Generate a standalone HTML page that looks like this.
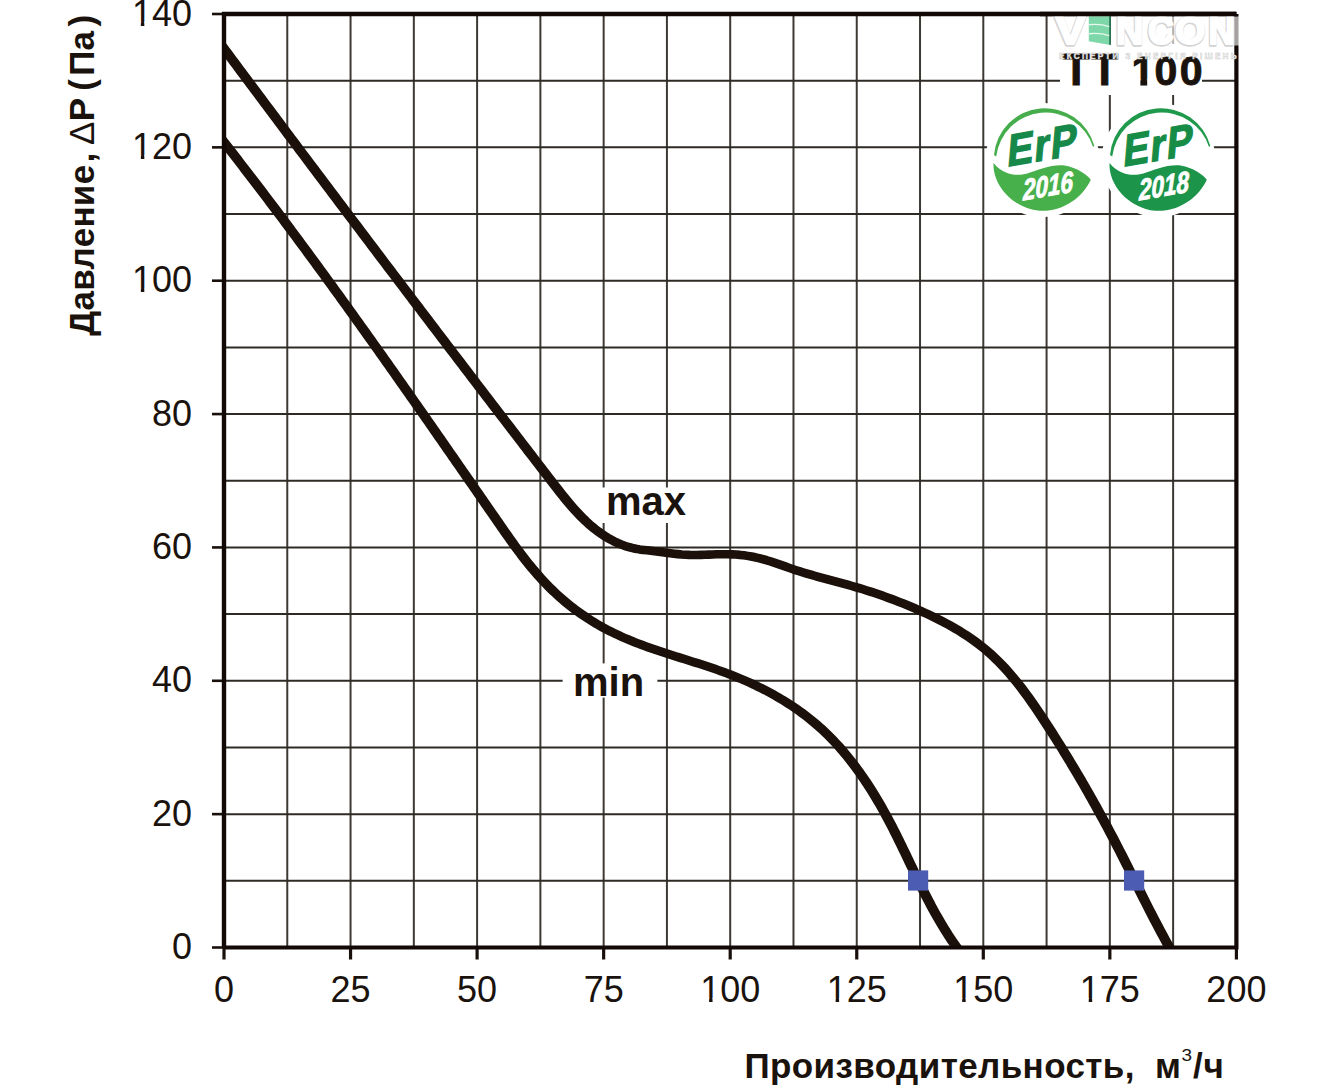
<!DOCTYPE html><html><head><meta charset="utf-8"><style>html,body{margin:0;padding:0;background:#fff;width:1329px;height:1087px;overflow:hidden}svg{display:block}text{font-family:"Liberation Sans",sans-serif}</style></head><body><svg width="1329" height="1087" viewBox="0 0 1329 1087"><defs><clipPath id="pc"><rect x="224.0" y="14.0" width="1012.4" height="933.5"/></clipPath></defs><rect width="1329" height="1087" fill="#fff"/><line x1="287.27" y1="14.0" x2="287.27" y2="947.5" stroke="#3d3934" stroke-width="2"/><line x1="350.55" y1="14.0" x2="350.55" y2="947.5" stroke="#3d3934" stroke-width="2"/><line x1="413.83" y1="14.0" x2="413.83" y2="947.5" stroke="#3d3934" stroke-width="2"/><line x1="477.10" y1="14.0" x2="477.10" y2="947.5" stroke="#3d3934" stroke-width="2"/><line x1="540.38" y1="14.0" x2="540.38" y2="947.5" stroke="#3d3934" stroke-width="2"/><line x1="603.65" y1="14.0" x2="603.65" y2="947.5" stroke="#3d3934" stroke-width="2"/><line x1="666.93" y1="14.0" x2="666.93" y2="947.5" stroke="#3d3934" stroke-width="2"/><line x1="730.20" y1="14.0" x2="730.20" y2="947.5" stroke="#3d3934" stroke-width="2"/><line x1="793.48" y1="14.0" x2="793.48" y2="947.5" stroke="#3d3934" stroke-width="2"/><line x1="856.75" y1="14.0" x2="856.75" y2="947.5" stroke="#3d3934" stroke-width="2"/><line x1="920.03" y1="14.0" x2="920.03" y2="947.5" stroke="#3d3934" stroke-width="2"/><line x1="983.30" y1="14.0" x2="983.30" y2="947.5" stroke="#3d3934" stroke-width="2"/><line x1="1046.58" y1="14.0" x2="1046.58" y2="947.5" stroke="#3d3934" stroke-width="2"/><line x1="1109.85" y1="14.0" x2="1109.85" y2="947.5" stroke="#3d3934" stroke-width="2"/><line x1="1173.12" y1="14.0" x2="1173.12" y2="947.5" stroke="#3d3934" stroke-width="2"/><line x1="224.0" y1="880.82" x2="1236.4" y2="880.82" stroke="#2e2a25" stroke-width="2"/><line x1="224.0" y1="814.14" x2="1236.4" y2="814.14" stroke="#2e2a25" stroke-width="2"/><line x1="224.0" y1="747.46" x2="1236.4" y2="747.46" stroke="#2e2a25" stroke-width="2"/><line x1="224.0" y1="680.79" x2="1236.4" y2="680.79" stroke="#2e2a25" stroke-width="2"/><line x1="224.0" y1="614.11" x2="1236.4" y2="614.11" stroke="#2e2a25" stroke-width="2"/><line x1="224.0" y1="547.43" x2="1236.4" y2="547.43" stroke="#2e2a25" stroke-width="2"/><line x1="224.0" y1="480.75" x2="1236.4" y2="480.75" stroke="#2e2a25" stroke-width="2"/><line x1="224.0" y1="414.07" x2="1236.4" y2="414.07" stroke="#2e2a25" stroke-width="2"/><line x1="224.0" y1="347.39" x2="1236.4" y2="347.39" stroke="#2e2a25" stroke-width="2"/><line x1="224.0" y1="280.71" x2="1236.4" y2="280.71" stroke="#2e2a25" stroke-width="2"/><line x1="224.0" y1="214.04" x2="1236.4" y2="214.04" stroke="#2e2a25" stroke-width="2"/><line x1="224.0" y1="147.36" x2="1236.4" y2="147.36" stroke="#2e2a25" stroke-width="2"/><line x1="224.0" y1="80.68" x2="1236.4" y2="80.68" stroke="#2e2a25" stroke-width="2"/><line x1="212" y1="947.50" x2="224.0" y2="947.50" stroke="#1a100b" stroke-width="2.6"/><line x1="212" y1="814.14" x2="224.0" y2="814.14" stroke="#1a100b" stroke-width="2.6"/><line x1="212" y1="680.79" x2="224.0" y2="680.79" stroke="#1a100b" stroke-width="2.6"/><line x1="212" y1="547.43" x2="224.0" y2="547.43" stroke="#1a100b" stroke-width="2.6"/><line x1="212" y1="414.07" x2="224.0" y2="414.07" stroke="#1a100b" stroke-width="2.6"/><line x1="212" y1="280.71" x2="224.0" y2="280.71" stroke="#1a100b" stroke-width="2.6"/><line x1="212" y1="147.36" x2="224.0" y2="147.36" stroke="#1a100b" stroke-width="2.6"/><line x1="212" y1="14.00" x2="224.0" y2="14.00" stroke="#1a100b" stroke-width="2.6"/><line x1="224.00" y1="947.5" x2="224.00" y2="959.5" stroke="#1a100b" stroke-width="3.2"/><line x1="350.55" y1="947.5" x2="350.55" y2="959.5" stroke="#1a100b" stroke-width="3.2"/><line x1="477.10" y1="947.5" x2="477.10" y2="959.5" stroke="#1a100b" stroke-width="3.2"/><line x1="603.65" y1="947.5" x2="603.65" y2="959.5" stroke="#1a100b" stroke-width="3.2"/><line x1="730.20" y1="947.5" x2="730.20" y2="959.5" stroke="#1a100b" stroke-width="3.2"/><line x1="856.75" y1="947.5" x2="856.75" y2="959.5" stroke="#1a100b" stroke-width="3.2"/><line x1="983.30" y1="947.5" x2="983.30" y2="959.5" stroke="#1a100b" stroke-width="3.2"/><line x1="1109.85" y1="947.5" x2="1109.85" y2="959.5" stroke="#1a100b" stroke-width="3.2"/><line x1="1236.40" y1="947.5" x2="1236.40" y2="959.5" stroke="#1a100b" stroke-width="3.2"/><rect x="596" y="487.5" width="104" height="35.5" fill="#fff"/><rect x="562.6" y="663.4" width="94.8" height="34.2" fill="#fff"/><rect x="1060" y="44" width="142" height="51" fill="#fff"/><g clip-path="url(#pc)"><g transform="scale(1.1800,1)" fill="none" stroke="#1c100a" stroke-width="8.6" stroke-linejoin="round"><path d="M184.73 40.50 L186.73 43.67 L188.73 46.84 L190.73 50.00 L192.72 53.16 L194.72 56.32 L196.71 59.48 L198.71 62.63 L200.70 65.78 L202.69 68.93 L204.68 72.08 L206.67 75.22 L208.65 78.37 L210.64 81.51 L212.63 84.64 L214.61 87.78 L216.60 90.91 L218.58 94.04 L220.56 97.17 L222.54 100.30 L224.52 103.43 L226.50 106.55 L228.48 109.67 L230.46 112.79 L232.44 115.91 L234.41 119.03 L236.39 122.14 L238.36 125.25 L240.34 128.36 L242.31 131.47 L244.28 134.58 L246.26 137.69 L248.23 140.79 L250.20 143.89 L252.17 146.99 L254.14 150.09 L256.11 153.19 L258.08 156.29 L260.05 159.38 L262.02 162.48 L263.99 165.57 L265.95 168.66 L267.92 171.75 L269.89 174.84 L271.86 177.93 L273.82 181.01 L275.79 184.10 L277.75 187.18 L279.72 190.27 L281.69 193.35 L283.65 196.43 L285.62 199.51 L287.58 202.59 L289.55 205.67 L291.51 208.74 L293.48 211.82 L295.44 214.89 L297.40 217.97 L299.37 221.04 L301.33 224.12 L303.30 227.19 L305.26 230.26 L307.23 233.33 L309.19 236.40 L311.16 239.47 L313.12 242.54 L315.09 245.61 L317.05 248.68 L319.02 251.75 L320.98 254.82 L322.95 257.88 L324.92 260.95 L326.88 264.02 L328.85 267.08 L330.82 270.15 L332.78 273.22 L334.75 276.28 L336.72 279.35 L338.69 282.41 L340.66 285.48 L342.63 288.54 L344.60 291.61 L346.57 294.67 L348.54 297.74 L350.51 300.81 L352.48 303.87 L354.45 306.94 L356.43 310.00 L358.40 313.07 L360.37 316.14 L362.35 319.20 L364.32 322.27 L366.30 325.34 L368.28 328.40 L370.26 331.47 L372.23 334.54 L374.21 337.61 L376.19 340.68 L378.18 343.75 L380.16 346.82 L382.14 349.89 L384.12 352.96 L386.11 356.04 L388.09 359.11 L390.08 362.18 L392.07 365.26 L394.06 368.33 L396.05 371.41 L398.04 374.49 L400.03 377.57 L402.02 380.64 L404.01 383.72 L406.01 386.81 L408.01 389.89 L410.00 392.97 L412.00 396.06 L414.00 399.14 L416.00 402.23 L418.00 405.31 L420.01 408.40 L422.01 411.49 L424.02 414.58 L426.03 417.68 L428.03 420.77 L430.05 423.87 L432.06 426.96 L434.07 430.06 L436.08 433.16 L438.10 436.26 L440.12 439.36 L442.14 442.47 L444.16 445.57 L446.18 448.68 L448.20 451.79 L450.23 454.90 L452.25 458.01 L454.28 461.13 L456.31 464.25 L458.34 467.36 L460.38 470.48 L462.41 473.60 L464.45 476.73 L466.49 479.85 L468.53 482.98 L470.58 486.10 L472.63 489.22 L474.69 492.32 L476.77 495.40 L478.87 498.46 L480.98 501.48 L483.12 504.47 L485.28 507.42 L487.48 510.32 L489.71 513.17 L491.97 515.95 L494.27 518.68 L496.61 521.33 L499.00 523.91 L501.44 526.40 L503.93 528.82 L506.47 531.13 L509.07 533.35 L511.73 535.47 L514.46 537.48 L517.25 539.38 L520.11 541.15 L523.05 542.80 L526.06 544.32 L529.14 545.69 L532.28 546.90 L535.46 547.92 L538.68 548.74 L541.92 549.38 L545.18 549.89 L548.45 550.35 L551.72 550.80 L554.98 551.28 L558.23 551.78 L561.48 552.29 L564.73 552.79 L567.97 553.28 L571.22 553.72 L574.47 554.12 L577.72 554.46 L580.98 554.71 L584.24 554.88 L587.51 554.95 L590.79 554.93 L594.07 554.86 L597.35 554.74 L600.64 554.60 L603.93 554.45 L607.22 554.32 L610.51 554.22 L613.80 554.18 L617.09 554.21 L620.37 554.34 L623.65 554.57 L626.92 554.90 L630.19 555.34 L633.44 555.88 L636.67 556.53 L639.89 557.28 L643.09 558.14 L646.26 559.11 L649.42 560.17 L652.56 561.31 L655.68 562.51 L658.80 563.76 L661.91 565.04 L665.02 566.33 L668.13 567.62 L671.25 568.89 L674.38 570.13 L677.52 571.32 L680.67 572.47 L683.83 573.60 L687.00 574.69 L690.17 575.76 L693.35 576.81 L696.53 577.84 L699.71 578.86 L702.90 579.87 L706.08 580.88 L709.26 581.89 L712.44 582.90 L715.61 583.92 L718.78 584.95 L721.94 586.00 L725.09 587.08 L728.24 588.17 L731.37 589.30 L734.49 590.45 L737.61 591.62 L740.71 592.83 L743.81 594.06 L746.90 595.32 L749.98 596.61 L753.05 597.93 L756.12 599.27 L759.17 600.65 L762.23 602.05 L765.27 603.48 L768.31 604.94 L771.35 606.44 L774.38 607.96 L777.40 609.51 L780.43 611.09 L783.44 612.70 L786.45 614.35 L789.45 616.03 L792.44 617.74 L795.42 619.49 L798.38 621.28 L801.32 623.11 L804.24 624.98 L807.14 626.90 L810.01 628.85 L812.85 630.86 L815.67 632.91 L818.45 635.01 L821.20 637.17 L823.91 639.37 L826.58 641.63 L829.21 643.94 L831.80 646.31 L834.34 648.74 L836.83 651.23 L839.28 653.78 L841.68 656.38 L844.04 659.03 L846.36 661.73 L848.64 664.48 L850.88 667.28 L853.08 670.12 L855.24 673.01 L857.38 675.93 L859.48 678.89 L861.55 681.89 L863.59 684.92 L865.60 687.98 L867.59 691.07 L869.55 694.18 L871.48 697.33 L873.40 700.49 L875.30 703.68 L877.17 706.88 L879.03 710.10 L880.88 713.33 L882.71 716.58 L884.52 719.83 L886.33 723.10 L888.12 726.37 L889.91 729.64 L891.69 732.91 L893.46 736.20 L895.22 739.48 L896.97 742.77 L898.72 746.07 L900.45 749.37 L902.18 752.67 L903.90 755.98 L905.61 759.29 L907.31 762.61 L909.00 765.93 L910.68 769.26 L912.36 772.59 L914.03 775.93 L915.69 779.27 L917.34 782.62 L918.99 785.97 L920.62 789.32 L922.25 792.69 L923.87 796.05 L925.48 799.42 L927.09 802.80 L928.69 806.18 L930.28 809.57 L931.86 812.96 L933.43 816.35 L935.00 819.76 L936.56 823.16 L938.11 826.58 L939.65 829.99 L941.19 833.42 L942.72 836.85 L944.24 840.28 L945.76 843.72 L947.27 847.16 L948.77 850.61 L950.26 854.07 L951.75 857.53 L953.24 860.99 L954.72 864.46 L956.19 867.93 L957.67 871.40 L959.14 874.88 L960.61 878.35 L962.08 881.83 L963.55 885.30 L965.02 888.78 L966.50 892.25 L967.97 895.72 L969.45 899.19 L970.93 902.66 L972.42 906.12 L973.91 909.58 L975.41 913.03 L976.92 916.48 L978.43 919.93 L979.96 923.36 L981.49 926.80 L983.03 930.22 L984.58 933.63 L986.15 937.04 L987.72 940.44 L989.31 943.83 L990.91 947.21 L992.53 950.57 L994.16 953.93"/><path d="M184.64 134.45 L186.30 136.94 L187.97 139.44 L189.63 141.94 L191.29 144.44 L192.95 146.95 L194.61 149.45 L196.26 151.96 L197.91 154.46 L199.56 156.97 L201.21 159.48 L202.86 161.99 L204.51 164.50 L206.15 167.01 L207.79 169.53 L209.43 172.04 L211.07 174.56 L212.71 177.08 L214.34 179.59 L215.98 182.11 L217.61 184.64 L219.24 187.16 L220.87 189.68 L222.49 192.20 L224.12 194.73 L225.74 197.26 L227.36 199.78 L228.98 202.31 L230.60 204.84 L232.22 207.37 L233.83 209.91 L235.45 212.44 L237.06 214.97 L238.67 217.51 L240.28 220.04 L241.89 222.58 L243.50 225.12 L245.10 227.66 L246.71 230.20 L248.31 232.74 L249.91 235.28 L251.51 237.83 L253.11 240.37 L254.70 242.92 L256.30 245.46 L257.89 248.01 L259.49 250.56 L261.08 253.11 L262.67 255.66 L264.26 258.21 L265.84 260.76 L267.43 263.32 L269.02 265.87 L270.60 268.43 L272.18 270.98 L273.76 273.54 L275.34 276.10 L276.92 278.66 L278.50 281.21 L280.08 283.78 L281.65 286.34 L283.23 288.90 L284.80 291.46 L286.37 294.03 L287.95 296.59 L289.52 299.16 L291.09 301.72 L292.65 304.29 L294.22 306.86 L295.79 309.43 L297.35 312.00 L298.92 314.57 L300.48 317.14 L302.04 319.71 L303.60 322.29 L305.16 324.86 L306.72 327.44 L308.28 330.01 L309.84 332.59 L311.40 335.16 L312.95 337.74 L314.51 340.32 L316.06 342.90 L317.62 345.48 L319.17 348.06 L320.72 350.64 L322.28 353.22 L323.83 355.81 L325.38 358.39 L326.93 360.97 L328.47 363.56 L330.02 366.15 L331.57 368.73 L333.12 371.32 L334.66 373.91 L336.21 376.49 L337.75 379.08 L339.30 381.67 L340.84 384.26 L342.38 386.85 L343.93 389.45 L345.47 392.04 L347.01 394.63 L348.55 397.22 L350.09 399.82 L351.63 402.41 L353.17 405.01 L354.71 407.60 L356.25 410.20 L357.78 412.79 L359.32 415.39 L360.86 417.99 L362.40 420.59 L363.93 423.19 L365.47 425.79 L367.00 428.39 L368.54 430.99 L370.07 433.59 L371.61 436.19 L373.14 438.79 L374.68 441.39 L376.21 444.00 L377.75 446.60 L379.28 449.20 L380.81 451.81 L382.35 454.41 L383.88 457.02 L385.41 459.62 L386.94 462.23 L388.48 464.83 L390.01 467.44 L391.54 470.05 L393.07 472.66 L394.60 475.26 L396.14 477.87 L397.67 480.48 L399.20 483.09 L400.73 485.70 L402.26 488.31 L403.79 490.92 L405.33 493.53 L406.86 496.14 L408.39 498.75 L409.92 501.36 L411.45 503.98 L412.98 506.59 L414.52 509.20 L416.05 511.81 L417.58 514.43 L419.11 517.04 L420.65 519.65 L422.18 522.27 L423.71 524.88 L425.25 527.49 L426.79 530.10 L428.33 532.71 L429.88 535.31 L431.43 537.90 L432.99 540.49 L434.56 543.06 L436.14 545.63 L437.73 548.19 L439.33 550.74 L440.94 553.28 L442.57 555.80 L444.20 558.31 L445.86 560.80 L447.53 563.28 L449.21 565.73 L450.92 568.17 L452.64 570.60 L454.38 572.99 L456.15 575.37 L457.93 577.73 L459.74 580.06 L461.57 582.37 L463.42 584.65 L465.30 586.90 L467.20 589.13 L469.13 591.33 L471.07 593.50 L473.04 595.64 L475.04 597.74 L477.06 599.82 L479.10 601.86 L481.16 603.87 L483.25 605.85 L485.36 607.79 L487.50 609.69 L489.66 611.57 L491.84 613.40 L494.04 615.20 L496.26 616.97 L498.50 618.70 L500.76 620.39 L503.04 622.05 L505.33 623.67 L507.65 625.26 L509.98 626.81 L512.34 628.32 L514.70 629.80 L517.09 631.24 L519.48 632.65 L521.90 634.02 L524.32 635.36 L526.76 636.67 L529.21 637.95 L531.68 639.20 L534.15 640.42 L536.63 641.62 L539.13 642.78 L541.63 643.92 L544.14 645.04 L546.66 646.13 L549.19 647.20 L551.72 648.26 L554.26 649.29 L556.80 650.32 L559.35 651.32 L561.91 652.32 L564.47 653.30 L567.03 654.27 L569.59 655.24 L572.16 656.20 L574.73 657.15 L577.30 658.10 L579.88 659.06 L582.45 660.01 L585.02 660.96 L587.59 661.92 L590.16 662.88 L592.73 663.85 L595.30 664.82 L597.86 665.81 L600.42 666.81 L602.97 667.82 L605.53 668.84 L608.07 669.89 L610.61 670.95 L613.15 672.03 L615.68 673.13 L618.20 674.25 L620.71 675.40 L623.21 676.57 L625.71 677.77 L628.20 679.00 L630.67 680.25 L633.14 681.52 L635.60 682.82 L638.04 684.15 L640.47 685.51 L642.89 686.89 L645.30 688.30 L647.70 689.74 L650.08 691.20 L652.45 692.69 L654.80 694.22 L657.14 695.76 L659.46 697.34 L661.77 698.95 L664.05 700.59 L666.33 702.25 L668.58 703.95 L670.82 705.67 L673.04 707.43 L675.23 709.21 L677.41 711.03 L679.57 712.88 L681.71 714.76 L683.83 716.67 L685.93 718.61 L688.00 720.58 L690.05 722.58 L692.08 724.62 L694.09 726.69 L696.07 728.80 L698.03 730.93 L699.96 733.10 L701.87 735.30 L703.75 737.53 L705.62 739.78 L707.46 742.07 L709.27 744.39 L711.07 746.73 L712.84 749.10 L714.59 751.50 L716.32 753.92 L718.03 756.36 L719.71 758.83 L721.38 761.33 L723.02 763.84 L724.65 766.38 L726.25 768.93 L727.84 771.51 L729.40 774.10 L730.94 776.72 L732.47 779.35 L733.98 782.00 L735.46 784.66 L736.93 787.34 L738.38 790.04 L739.82 792.75 L741.23 795.47 L742.63 798.20 L744.01 800.95 L745.37 803.71 L746.72 806.47 L748.05 809.25 L749.36 812.03 L750.66 814.83 L751.94 817.63 L753.21 820.43 L754.46 823.25 L755.70 826.07 L756.93 828.89 L758.15 831.72 L759.36 834.55 L760.55 837.39 L761.74 840.23 L762.93 843.07 L764.10 845.92 L765.27 848.77 L766.44 851.62 L767.60 854.47 L768.76 857.32 L769.92 860.17 L771.07 863.02 L772.23 865.87 L773.39 868.72 L774.55 871.56 L775.71 874.41 L776.87 877.25 L778.04 880.09 L779.22 882.92 L780.40 885.75 L781.59 888.58 L782.79 891.40 L784.00 894.22 L785.21 897.02 L786.44 899.83 L787.68 902.62 L788.94 905.41 L790.20 908.19 L791.49 910.96 L792.78 913.72 L794.10 916.48 L795.43 919.22 L796.78 921.95 L798.15 924.68 L799.54 927.39 L800.95 930.09 L802.39 932.77 L803.84 935.45 L805.32 938.11 L806.83 940.76 L808.36 943.39 L809.92 946.01 L811.51 948.61 L813.12 951.20 L814.76 953.77"/></g></g><path d="M224.0 947.5 L1236.4 947.5 L1236.4 14.0" fill="none" stroke="#120806" stroke-width="4.2"/><path d="M224.0 947.5 L224.0 14.0 L1236.4 14.0" fill="none" stroke="#120806" stroke-width="4.4"/><rect x="1124" y="870.4" width="20.2" height="20.2" fill="#4b5cb2"/><rect x="908" y="870.4" width="20.2" height="20.2" fill="#4b5cb2"/><text x="192" y="959.20" font-size="36" text-anchor="end" fill="#1a120d">0</text><text x="192" y="825.84" font-size="36" text-anchor="end" fill="#1a120d">20</text><text x="192" y="692.49" font-size="36" text-anchor="end" fill="#1a120d">40</text><text x="192" y="559.13" font-size="36" text-anchor="end" fill="#1a120d">60</text><text x="192" y="425.77" font-size="36" text-anchor="end" fill="#1a120d">80</text><text x="192" y="292.41" font-size="36" text-anchor="end" fill="#1a120d">100</text><rect x="133.68" y="288.52" width="7.16" height="5.09" fill="#fff"/><rect x="144.32" y="288.52" width="7.03" height="5.09" fill="#fff"/><text x="192" y="159.06" font-size="36" text-anchor="end" fill="#1a120d">120</text><rect x="133.68" y="155.17" width="7.16" height="5.09" fill="#fff"/><rect x="144.32" y="155.17" width="7.03" height="5.09" fill="#fff"/><text x="192" y="25.70" font-size="36" text-anchor="end" fill="#1a120d">140</text><rect x="133.68" y="21.81" width="7.16" height="5.09" fill="#fff"/><rect x="144.32" y="21.81" width="7.03" height="5.09" fill="#fff"/><text x="224.00" y="1001.8" font-size="36" text-anchor="middle" fill="#1a120d">0</text><text x="350.55" y="1001.8" font-size="36" text-anchor="middle" fill="#1a120d">25</text><text x="477.10" y="1001.8" font-size="36" text-anchor="middle" fill="#1a120d">50</text><text x="603.65" y="1001.8" font-size="36" text-anchor="middle" fill="#1a120d">75</text><text x="730.20" y="1001.8" font-size="36" text-anchor="middle" fill="#1a120d">100</text><rect x="701.91" y="997.91" width="7.16" height="5.09" fill="#fff"/><rect x="712.55" y="997.91" width="7.03" height="5.09" fill="#fff"/><text x="856.75" y="1001.8" font-size="36" text-anchor="middle" fill="#1a120d">125</text><rect x="828.46" y="997.91" width="7.16" height="5.09" fill="#fff"/><rect x="839.10" y="997.91" width="7.03" height="5.09" fill="#fff"/><text x="983.30" y="1001.8" font-size="36" text-anchor="middle" fill="#1a120d">150</text><rect x="955.01" y="997.91" width="7.16" height="5.09" fill="#fff"/><rect x="965.65" y="997.91" width="7.03" height="5.09" fill="#fff"/><text x="1109.85" y="1001.8" font-size="36" text-anchor="middle" fill="#1a120d">175</text><rect x="1081.56" y="997.91" width="7.16" height="5.09" fill="#fff"/><rect x="1092.20" y="997.91" width="7.03" height="5.09" fill="#fff"/><text x="1236.40" y="1001.8" font-size="36" text-anchor="middle" fill="#1a120d">200</text><text x="744.5" y="1078.4" font-size="35" font-weight="bold" letter-spacing="0.4" fill="#1a120d">Производительность,</text><text x="1155" y="1078.4" font-size="35" font-weight="bold" fill="#1a120d">м</text><text x="1181.5" y="1061.0" font-size="16.5" fill="#1a120d" transform="translate(1181.5,0) scale(1.15,1) translate(-1181.5,0)">3</text><text x="1193" y="1078.4" font-size="35" font-weight="bold" fill="#1a120d">/</text><text x="1203.5" y="1078.4" font-size="35" font-weight="bold" fill="#1a120d">ч</text><text transform="translate(94.1,335.8) rotate(-90)" font-size="35" font-weight="bold" letter-spacing="0.3" fill="#1a120d">Давление<tspan dx="2">,</tspan><tspan dx="-2"> </tspan><tspan font-weight="normal" dx="-0.5">Δ</tspan>P<tspan dx="-2.5"> (</tspan><tspan dx="3">Па</tspan><tspan dx="4">)</tspan></text><text x="606" y="515" font-size="40" font-weight="bold" fill="#1a120d">max</text><text x="573" y="696.2" font-size="40" font-weight="bold" fill="#1a120d">min</text><g fill="#1a120d" stroke="#1a120d" stroke-width="0.9" font-size="41" font-weight="bold"><text x="1062.85" y="85" font-size="44">T</text><text x="1091.25" y="85" font-size="44">T</text><text x="1131.4" y="85">1</text><text x="1154.5" y="85">0</text><text x="1179.8" y="85">0</text></g><rect x="1132.48" y="79.12" width="7.89" height="7.58" fill="#fff"/><rect x="1147.19" y="79.12" width="7.52" height="7.58" fill="#fff"/><g transform="translate(1042.5,160.0)"><circle cx="0" cy="0" r="57" fill="#fff"/><path d="M-48.5 -5 A51.157 51.157 0 0 1 51.8 -14.2 L50.6 -13.0 A49.829 49.829 0 0 0 -46.3 -3.5 Z" fill="#45ad4c"/><path d="M-49 2.9 C-50 25 -30 48 -3 50.8 C20 52 40 38 48.3 19.8 C44 14 35 8 22 5.5 C10 4 -5 10 -15.2 13.5 C-25 16 -38 16 -49 2.9 Z" fill="#47b04b"/><text transform="translate(-36,6.8) skewY(-10) skewX(-5) scale(0.86,1)" font-size="45" font-weight="bold" fill="#16894a" stroke="#16894a" stroke-width="1.4" letter-spacing="1.5">ErP</text><text transform="translate(-19.5,40.5) skewY(-10) scale(0.75,1)" font-size="30" font-weight="bold" font-style="italic" fill="#fff" stroke="#fff" stroke-width="0.9">2016</text></g><g transform="translate(1158.5,160.0)"><circle cx="0" cy="0" r="57" fill="#fff"/><path d="M-48.5 -5 A51.157 51.157 0 0 1 51.8 -14.2 L50.6 -13.0 A49.829 49.829 0 0 0 -46.3 -3.5 Z" fill="#1f994b"/><path d="M-49 2.9 C-50 25 -30 48 -3 50.8 C20 52 40 38 48.3 19.8 C44 14 35 8 22 5.5 C10 4 -5 10 -15.2 13.5 C-25 16 -38 16 -49 2.9 Z" fill="#1c9449"/><text transform="translate(-36,6.8) skewY(-10) skewX(-5) scale(0.86,1)" font-size="45" font-weight="bold" fill="#168c47" stroke="#168c47" stroke-width="1.4" letter-spacing="1.5">ErP</text><text transform="translate(-19.5,40.5) skewY(-10) scale(0.75,1)" font-size="30" font-weight="bold" font-style="italic" fill="#fff" stroke="#fff" stroke-width="0.9">2018</text></g><rect x="1052" y="16.5" width="190" height="29" fill="#fff" fill-opacity="0.62"/><g font-size="39" font-weight="bold"><text transform="translate(1054.9,44.9) scale(1.15,1)" fill="#d2d2d2" stroke="#d2d2d2" stroke-width="3.4" stroke-linejoin="round">V</text><text transform="translate(1115.4,44.9) scale(0.97,1)" fill="#d2d2d2" stroke="#d2d2d2" stroke-width="3.4" stroke-linejoin="round">N</text><text transform="translate(1147.4,44.9) scale(0.92,1)" fill="#d2d2d2" stroke="#d2d2d2" stroke-width="3.4" stroke-linejoin="round">C</text><text transform="translate(1174.4,44.9) scale(1.00,1)" fill="#d2d2d2" stroke="#d2d2d2" stroke-width="3.4" stroke-linejoin="round">O</text><text transform="translate(1207.9,44.9) scale(0.93,1)" fill="#d2d2d2" stroke="#d2d2d2" stroke-width="3.4" stroke-linejoin="round">N</text><text transform="translate(1055.5,44.3) scale(1.15,1)" fill="#fff" stroke="#fff" stroke-width="2.0" stroke-linejoin="round">V</text><text transform="translate(1116.0,44.3) scale(0.97,1)" fill="#fff" stroke="#fff" stroke-width="2.0" stroke-linejoin="round">N</text><text transform="translate(1148.0,44.3) scale(0.92,1)" fill="#fff" stroke="#fff" stroke-width="2.0" stroke-linejoin="round">C</text><text transform="translate(1175.0,44.3) scale(1.00,1)" fill="#fff" stroke="#fff" stroke-width="2.0" stroke-linejoin="round">O</text><text transform="translate(1208.5,44.3) scale(0.93,1)" fill="#fff" stroke="#fff" stroke-width="2.0" stroke-linejoin="round">N</text></g><g transform="translate(1088.8,16.3)"><path d="M0 0 H21.4 V28.6 L0 25 Z" fill="#6fd3a0" fill-opacity="0.9"/><path d="M0 8.5 Q10 7 21.4 10.5 M0 17.5 Q10 16 21.4 19.5" stroke="#e8f8ee" stroke-width="1.4" fill="none"/><rect x="20.5" y="0" width="1.6" height="28.6" fill="#1b6b44"/></g><text x="1059" y="59.3" font-size="8.2" font-weight="bold" letter-spacing="1.35" fill="#fff" stroke="#c8c8c8" stroke-width="0.5" textLength="179" lengthAdjust="spacing">ЕКСПЕРТИ З ЕНЕРГІЯ РІШЕНЬ</text><path d="M1040.0 14.0 L1236.4 14.0" stroke="#120806" stroke-width="4.4"/></svg></body></html>
